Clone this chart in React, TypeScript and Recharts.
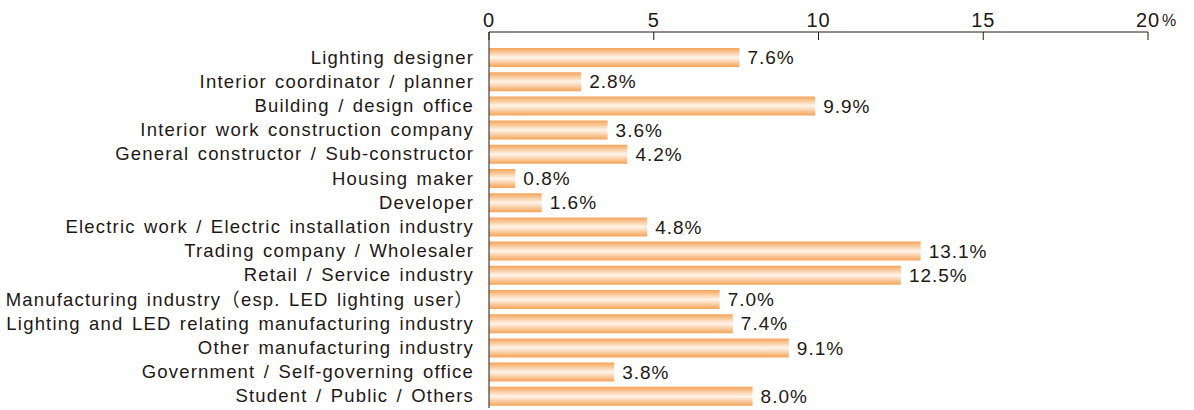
import { BarChart, Bar, XAxis, YAxis, LabelList } from "recharts";

const categories = [
  "Lighting designer",
  "Interior coordinator / planner",
  "Building / design office",
  "Interior work construction company",
  "General constructor / Sub-constructor",
  "Housing maker",
  "Developer",
  "Electric work / Electric installation industry",
  "Trading company / Wholesaler",
  "Retail / Service industry",
  "Manufacturing industry（esp. LED lighting user）",
  "Lighting and LED relating manufacturing industry",
  "Other manufacturing industry",
  "Government / Self-governing office",
  "Student / Public / Others",
];

const shares = [7.6, 2.8, 9.9, 3.6, 4.2, 0.8, 1.6, 4.8, 13.1, 12.5, 7.0, 7.4, 9.1, 3.8, 8.0];

const xTicks = [0, 5, 10, 15, 20];

const data = categories.map((name, i) => ({ name, value: shares[i] }));

const FONT = '"Liberation Sans", "Noto Sans CJK JP", Arial, sans-serif';
const INK = "#231815";

function TopTick(props: any) {
  const { x, y, payload } = props;
  const axisY = y + 6;
  return (
    <g>
      <line x1={x} x2={x} y1={axisY} y2={axisY + 8} stroke={INK} strokeWidth={1} />
      <text x={x} y={axisY - 5} textAnchor="middle" fill={INK} fontSize={20} letterSpacing={1} fontFamily={FONT}>
        {payload.value}
      </text>
      {payload.value === 20 && (
        <text x={x + 14} y={axisY - 6} textAnchor="start" fill={INK} fontSize={16} fontFamily={FONT}>
          %
        </text>
      )}
    </g>
  );
}

export default function App() {
  return (
    <div style={{ position: "absolute", left: 0, top: 0, background: "#fff" }}>
      <BarChart
        width={1194}
        height={410}
        data={data}
        layout="vertical"
        margin={{ top: 0, right: 46, bottom: 2, left: 0 }}
      >
        <defs>
          <linearGradient id="barGrad" x1="0" y1="0" x2="0" y2="1">
            <stop offset="0%" stopColor="#f4a358" />
            <stop offset="50%" stopColor="#fff5ea" />
            <stop offset="100%" stopColor="#f4a358" />
          </linearGradient>
        </defs>
        <XAxis
          type="number"
          orientation="top"
          domain={[0, 20]}
          ticks={xTicks}
          axisLine={{ stroke: INK, strokeWidth: 1 }}
          tickLine={false}
          tickSize={4}
          tickMargin={2}
          tick={<TopTick />}
          height={32}
        />
        <YAxis
          type="category"
          dataKey="name"
          width={489}
          padding={{ top: 13, bottom: 0 }}
          axisLine={{ stroke: INK, strokeWidth: 1 }}
          tickLine={false}
          tickSize={15}
          tickMargin={0}
          interval={0}
          tick={{ fill: INK, fontSize: 18.5, fontFamily: FONT, letterSpacing: 1.2, wordSpacing: 2 }}
        />
        <Bar dataKey="value" fill="url(#barGrad)" barSize={19} isAnimationActive={false}>
          <LabelList
            dataKey="value"
            position="right"
            offset={8}
            formatter={(v: any) => Number(v).toFixed(1) + "%"}
            style={{ fill: INK, fontSize: 19, fontFamily: FONT, letterSpacing: 1 }}
          />
        </Bar>
      </BarChart>
    </div>
  );
}
